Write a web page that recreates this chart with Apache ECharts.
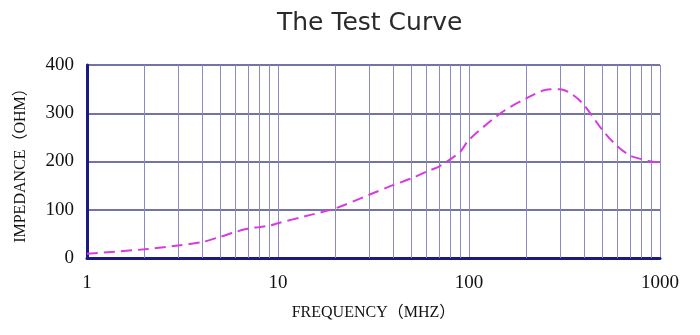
<!DOCTYPE html>
<html>
<head>
<meta charset="utf-8">
<script src="https://cdn.jsdelivr.net/npm/echarts@6/dist/echarts.min.js"></script>
<style>html,body{margin:0;padding:0;background:#fff;}#c{width:700px;height:335px;}</style>
</head>
<body>
<div id="c"></div>
<script>
var freqs = [1, 2, 3, 4, 5, 6, 7, 8, 9, 10, 14, 20, 30, 40, 50, 60, 70, 80, 90, 100, 150, 200, 250, 300, 350, 400, 500, 600, 700, 800, 900, 1000];
var impedance = [9, 18, 26, 33, 44, 54, 61, 64, 67, 72, 87, 103, 131, 151, 165, 179, 190, 205, 220, 245, 303, 331, 348, 350, 338, 317, 265, 231, 212, 205, 200, 198];
var minorFreqs = [2, 3, 4, 5, 6, 7, 8, 9, 20, 30, 40, 50, 60, 70, 80, 90, 200, 300, 400, 500, 600, 700, 800, 900];
var yTicks = [0, 100, 200, 300, 400];

var chart = echarts.init(document.getElementById('c'));
var serif = '"Liberation Serif", "Noto Sans CJK SC", serif';
chart.setOption({
  animation: false,
  title: {
    text: 'The Test Curve', left: 272, top: 6,
    textStyle: { fontFamily: '"DejaVu Sans"', fontSize: 25, fontWeight: 'normal', color: '#2a2a2a' }
  },
  grid: { left: 87, right: 40, top: 65, bottom: 77 },
  xAxis: {
    type: 'log', logBase: 10, min: 1, max: 1000,
    name: 'FREQUENCY（MHZ）', nameLocation: 'middle', nameGap: 47,
    nameTextStyle: { fontFamily: serif, fontSize: 16, color: '#111' },
    axisLine: { lineStyle: { color: '#1a1a80', width: 3 } },
    axisTick: { show: false },
    axisLabel: { fontFamily: serif, fontSize: 19, color: '#111', margin: 16, formatter: function (v) { return String(v); } },
    splitLine: { show: true, lineStyle: { color: '#8a8ac4', width: 1 } }
  },
  yAxis: {
    type: 'value', min: yTicks[0], max: yTicks[yTicks.length - 1], interval: 100,
    name: 'IMPEDANCE（OHM）', nameLocation: 'middle', nameGap: 58,
    nameTextStyle: { fontFamily: serif, fontSize: 16, color: '#111' },
    axisLine: { show: true, lineStyle: { color: '#1a1a80', width: 3 } },
    axisTick: { show: false },
    axisLabel: { fontFamily: serif, fontSize: 19, color: '#111', margin: 13 },
    splitLine: { show: true, lineStyle: { color: '#45458a', width: 1.5 } }
  },
  series: [{
    type: 'line',
    data: freqs.map(function (f, i) { return [f, impedance[i]]; }),
    smooth: 0.3,
    showSymbol: false,
    lineStyle: { color: '#d63be0', width: 2, type: [11, 6] },
    z: 5,
    markLine: {
      silent: true, symbol: 'none', label: { show: false }, animation: false,
      lineStyle: { color: '#8a8ac4', width: 1, type: 'solid' },
      data: minorFreqs.map(function (f) { return { xAxis: f }; })
    }
  }]
});
</script>
</body>
</html>
